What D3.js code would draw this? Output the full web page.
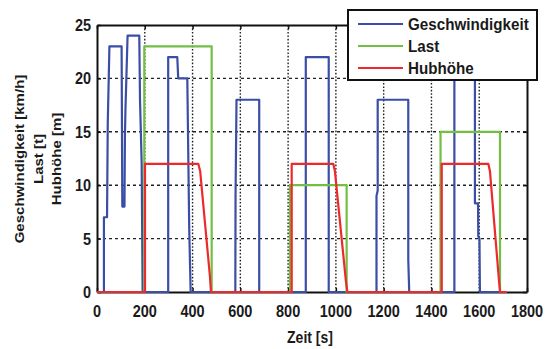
<!DOCTYPE html>
<html>
<head>
<meta charset="utf-8">
<script src="https://cdn.jsdelivr.net/npm/d3@7"></script>
<style>
  html, body { margin: 0; padding: 0; background: #fff; }
  svg { display: block; }
  text { font-family: "Liberation Sans", Arial, sans-serif; font-weight: bold; fill: #1a1a1a; }
</style>
</head>
<body>
<svg id="chart" width="550" height="349"></svg>
<script>
// ---- data ----
const xTicks = [0, 200, 400, 600, 800, 1000, 1200, 1400, 1600, 1800];
const yTicks = [0, 5, 10, 15, 20, 25];

const speedTime = [0,29,29,42,45,52,103,106,115,117,119,128,177,180,187,191,298,298,336,340,378,386,392,579,580,584,679,679,874,874,970,970,1170,1170,1175,1175,1303,1303,1307,1496,1496,1582,1582,1595,1596,1601,1603,1715];
const speedValue = [0,0,7,7,15.8,23,23,8,8,14.7,17,24,24,18,12,0,0,22,22,20,20,6,0,0,9,18,18,0,0,22,22,0,0,9,9.5,18,18,3,0,0,22,22,8.3,8.3,5.2,5,0,0];

const loadTime = [0,198,198,480,480,808,808,1045,1045,1438,1438,1687,1687,1715];
const loadValue = [0,0,23,23,0,0,10,10,0,0,15,15,0,0];

const heightTime = [0,201,201,424,432,473,477,815,815,989,996,1042,1048,1443,1443,1638,1645,1683,1687,1715];
const heightValue = [0,0,12,12,11.3,1.4,0,0,12,12,11.3,1,0,0,12,12,11.3,1,0,0];

const seriesNames = ["Geschwindigkeit", "Last", "Hubhöhe"];
const seriesColors = ["#3a4ea6", "#72bf44", "#ec2a2c"];
const yTitles = ["Geschwindigkeit [km/h]", "Last [t]", "Hubhöhe [m]"];
const xTitle = "Zeit [s]";

// ---- layout ----
const svg = d3.select("#chart");
const x = d3.scaleLinear().domain([0, 1800]).range([97, 527]);
const y = d3.scaleLinear().domain([0, 25]).range([292, 25]);
const SY = 1.12; // vertical stretch of the reference's text

// grid
const grid = svg.append("g");
grid.selectAll("line.vg").data(xTicks.slice(1, -1)).enter().append("line")
  .attr("x1", d => x(d)).attr("x2", d => x(d))
  .attr("y1", y(0)).attr("y2", y(25))
  .attr("stroke", "#222").attr("stroke-width", 1.4).attr("stroke-dasharray", "1.6,1.8");
grid.selectAll("line.hg").data(yTicks.slice(1, -1)).enter().append("line")
  .attr("x1", x(0)).attr("x2", x(1800))
  .attr("y1", d => y(d)).attr("y2", d => y(d))
  .attr("stroke", "#222").attr("stroke-width", 1.4).attr("stroke-dasharray", "3,3");

// axes (frame + inner ticks)
const axB = d3.axisBottom(x).tickValues(xTicks).tickSizeInner(-4).tickSizeOuter(0).tickFormat("");
const axT = d3.axisTop(x).tickValues(xTicks).tickSizeInner(-4).tickSizeOuter(0).tickFormat("");
const axL = d3.axisLeft(y).tickValues(yTicks).tickSizeInner(-4).tickSizeOuter(0).tickFormat("");
const axR = d3.axisRight(y).tickValues(yTicks).tickSizeInner(-4).tickSizeOuter(0).tickFormat("");
function styleAxis(g) {
  g.select(".domain").attr("stroke", "#111").attr("stroke-width", 2);
  g.selectAll(".tick line").attr("stroke", "#111").attr("stroke-width", 1.5);
}
svg.append("g").attr("transform", `translate(0,${y(0)})`).call(axB).call(styleAxis);
svg.append("g").attr("transform", `translate(0,${y(25)})`).call(axT).call(styleAxis);
svg.append("g").attr("transform", `translate(${x(0)},0)`).call(axL).call(styleAxis);
svg.append("g").attr("transform", `translate(${x(1800)},0)`).call(axR).call(styleAxis);

// tick labels
const fmt = d3.format("d");
svg.append("g").selectAll("text").data(xTicks).enter().append("text")
  .attr("transform", d => `translate(${x(d)},${y(0) + 25}) scale(1,${SY})`)
  .attr("text-anchor", "middle").style("font-size", "14.5px").text(fmt);
svg.append("g").selectAll("text").data(yTicks).enter().append("text")
  .attr("transform", d => `translate(${x(0) - 6},${y(d) + 6}) scale(1,${SY})`)
  .attr("text-anchor", "end").style("font-size", "14.5px").text(fmt);

// series
const line = d3.line().x(d => x(d[0])).y(d => y(d[1]));
const series = [
  d3.zip(speedTime, speedValue),
  d3.zip(loadTime, loadValue),
  d3.zip(heightTime, heightValue)
];
series.forEach((s, i) => {
  svg.append("path").datum(s).attr("d", line)
    .attr("fill", "none").attr("stroke", seriesColors[i])
    .attr("stroke-width", 2.2).attr("stroke-linejoin", "round");
});

// axis titles
svg.append("text").attr("transform", `translate(310,343) scale(1,${SY})`)
  .attr("text-anchor", "middle").style("font-size", "14px").text(xTitle);
yTitles.forEach((t, i) => {
  svg.append("text")
    .attr("transform", `translate(${24 + i * 18.5},159) scale(1,${1.13}) rotate(-90)`)
    .attr("text-anchor", "middle")
    .style("font-size", "13.3px").text(t);
});

// legend
const lg = svg.append("g");
lg.append("rect").attr("x", 348).attr("y", 10).attr("width", 189).attr("height", 70)
  .attr("fill", "#fff").attr("stroke", "#111").attr("stroke-width", 2);
seriesNames.forEach((n, i) => {
  const cy = 24 + i * 22;
  lg.append("line").attr("x1", 358).attr("x2", 403).attr("y1", cy).attr("y2", cy)
    .attr("stroke", seriesColors[i]).attr("stroke-width", 2.2);
  lg.append("text").attr("transform", `translate(408,${cy + 5.5}) scale(1,${SY})`)
    .style("font-size", "15.2px").text(n);
});
</script>
</body>
</html>
